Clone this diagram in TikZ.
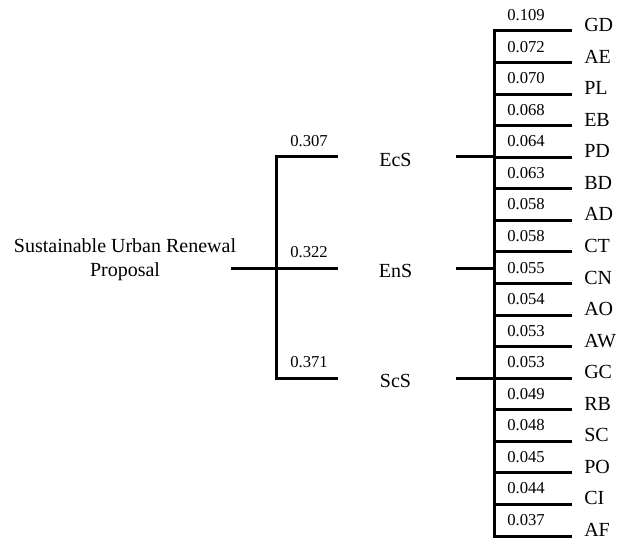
\documentclass[tikz,border=0pt]{standalone}
\usepackage{fontspec}
\setmainfont{Liberation Serif}
\begin{document}
\begin{tikzpicture}[x=0.75pt,y=-0.75pt,
  bar/.style={line width=2.25pt,line cap=rect},
  link/.style={line width=2.25pt},
  bigtxt/.style={font=\fontsize{15}{18}\selectfont,inner sep=0pt},
  valtxt/.style={font=\fontsize{12.5}{15}\selectfont,inner sep=0pt,anchor=base}]
\useasboundingbox (0,0) rectangle (620,538);
% root
\node[bigtxt,align=center] (root) at (125,260) {Sustainable Urban Renewal\\Proposal};
\coordinate (rs) at (231,268);
\coordinate (ja) at (276,268);
\coordinate (jatop) at (276,157);
\coordinate (jabot) at (276,378);
\draw[link] (rs) -- (ja);
\draw[bar] (jatop) -- (jabot);
% level 1
\foreach \nm/\lab/\val/\yy in {ecs/EcS/0.307/157, ens/EnS/0.322/268, scs/ScS/0.371/378}{
  \coordinate (\nm-l) at (276,\yy);
  \coordinate (\nm-r) at (338,\yy);
  \draw[link] (\nm-l) -- (\nm-r);
  \node[valtxt] (\nm-w) at (309,\yy-10.5) {\val};
  \node[bigtxt,anchor=base] (\nm) at (395.5,\yy+9.5) {\lab};
  \coordinate (\nm-a) at (456,\yy);
  \coordinate (\nm-b) at (494,\yy);
  \draw[link] (\nm-a) -- (\nm-b);
}
% level 2
\coordinate (jbtop) at (494,31);
\coordinate (jbbot) at (494,536);
\draw[bar] (jbtop) -- (jbbot);
\foreach \lab/\val [count=\i from 0] in {GD/0.109, AE/0.072, PL/0.070, EB/0.068, PD/0.064, BD/0.063, AD/0.058, CT/0.058, CN/0.055, AO/0.054, AW/0.053, GC/0.053, RB/0.049, SC/0.048, PO/0.045, CI/0.044, AF/0.037}{
  \pgfmathsetmacro{\yy}{31+\i*31.5625}
  \coordinate (\lab-l) at (494,\yy);
  \coordinate (\lab-r) at (572,\yy);
  \draw[link] (\lab-l) -- (\lab-r);
  \node[valtxt] (\lab-w) at (526,\yy-10.5) {\val};
  \node[bigtxt,anchor=base west] (\lab) at (584,\yy+0.5) {\lab};
}
\end{tikzpicture}
\end{document}
